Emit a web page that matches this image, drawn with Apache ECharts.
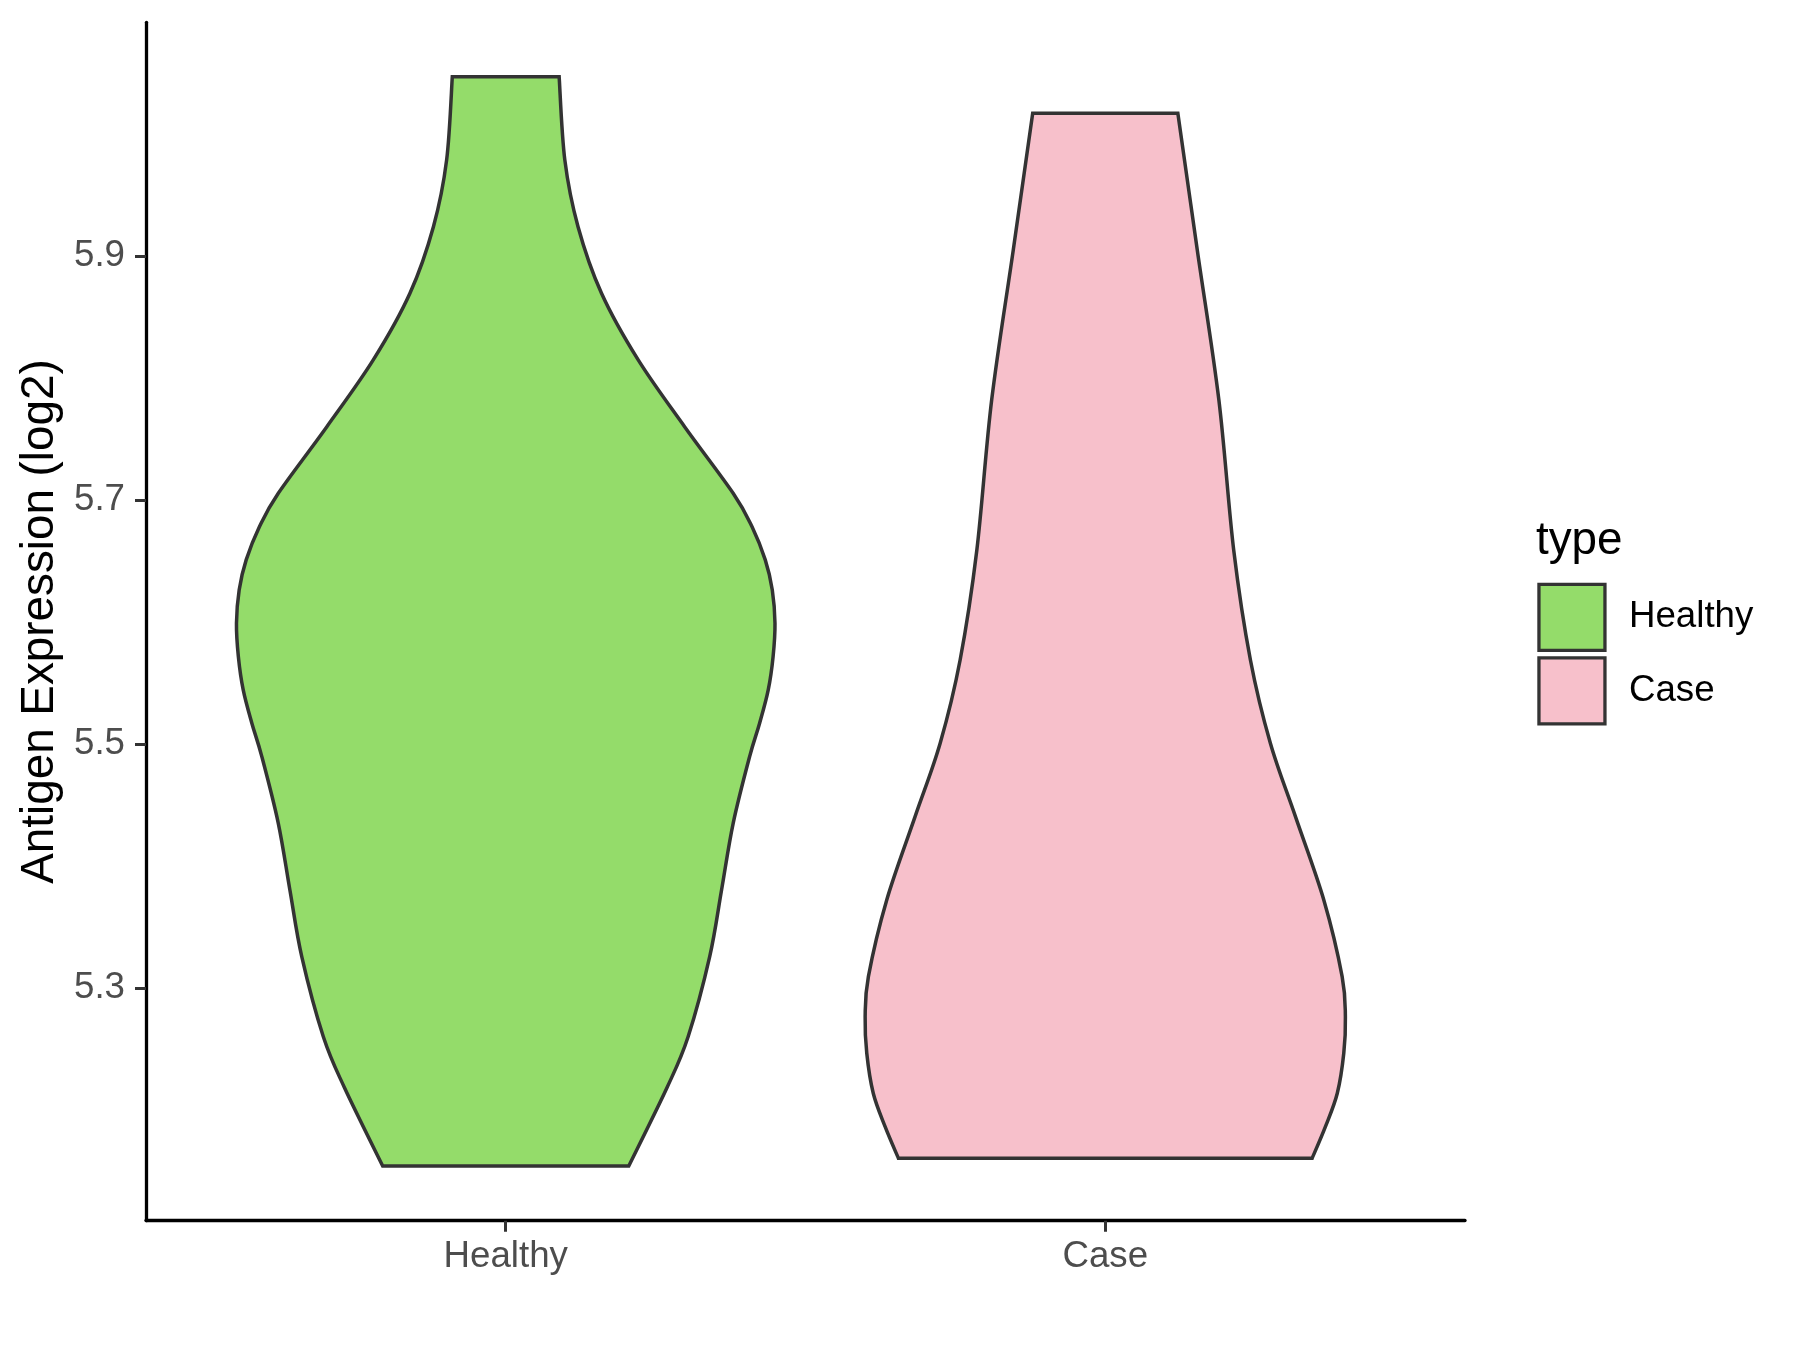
<!DOCTYPE html>
<html><head><meta charset="utf-8">
<script src="https://cdn.jsdelivr.net/npm/echarts@6/dist/echarts.min.js"></script>
<style>html,body{margin:0;padding:0;background:#fff}#c{width:1800px;height:1350px}</style>
</head><body><div id="c"></div>
<script>
const categories = ['Healthy', 'Case'];
const yTicks = [5.3, 5.5, 5.7, 5.9];
const legendTitle = 'type';
const yTitle = 'Antigen Expression (log2)';

// violin outline: expression value and relative density (1 = widest violin)
const healthyValues  = [6.0467, 5.9785, 5.9238, 5.8693, 5.8147, 5.760, 5.7055, 5.6781, 5.6509, 5.6263, 5.599, 5.5717, 5.5444, 5.5171, 5.4898, 5.4352, 5.3806, 5.326, 5.2604, 5.2188, 5.1545];
const healthyDensity = [0.198, 0.219, 0.268, 0.355, 0.491, 0.663, 0.843, 0.913, 0.962, 0.988, 0.998, 0.991, 0.973, 0.941, 0.904, 0.843, 0.800, 0.756, 0.676, 0.598, 0.456];
const caseValues  = [6.0167, 5.9048, 5.782, 5.659, 5.5689, 5.5007, 5.4406, 5.3724, 5.3096, 5.2768, 5.2468, 5.2141, 5.1867, 5.1609];
const caseDensity = [0.269, 0.341, 0.421, 0.476, 0.538, 0.612, 0.705, 0.810, 0.878, 0.890, 0.884, 0.860, 0.816, 0.767];

const FONT = '"Liberation Sans", Arial, sans-serif';
const HALF = 0.45;
const colors = ['#94dc6a', '#f7c0cb'];

function catmull(p) {
  let s = '';
  for (let i = 0; i < p.length - 1; i++) {
    const p0 = p[i - 1] || p[i], p1 = p[i], p2 = p[i + 1], p3 = p[i + 2] || p[i + 1];
    const c1 = [p1[0] + (p2[0] - p0[0]) / 6, p1[1] + (p2[1] - p0[1]) / 6];
    const c2 = [p2[0] - (p3[0] - p1[0]) / 6, p2[1] - (p3[1] - p1[1]) / 6];
    s += ' C' + c1[0] + ',' + c1[1] + ' ' + c2[0] + ',' + c2[1] + ' ' + p2[0] + ',' + p2[1];
  }
  return s;
}

function makeRender(values, density, catIdx, color) {
  return function (params, api) {
    if (params.dataIndex !== 0) return;
    const left = [], right = [];
    for (let i = 0; i < values.length; i++) {
      const c = api.coord([catIdx + 1, values[i]]);
      const hw = api.size([HALF * density[i], 0])[0];
      left.push([c[0] - hw, c[1]]);
      right.push([c[0] + hw, c[1]]);
    }
    const rr = right.slice().reverse();
    let d = 'M' + left[0][0] + ',' + left[0][1] + catmull(left);
    d += ' L' + rr[0][0] + ',' + rr[0][1] + catmull(rr) + ' Z';
    return {
      type: 'path',
      shape: { pathData: d },
      style: { fill: color, stroke: '#333333', lineWidth: 3.5, lineJoin: 'miter' }
    };
  };
}

const chart = echarts.init(document.getElementById('c'), null, { renderer: 'canvas' });
chart.setOption({
  animation: false,
  backgroundColor: '#ffffff',
  grid: { left: 146, top: 22.3, right: 335, bottom: 129.3, containLabel: false },
  xAxis: {
    type: 'value', min: 0.4, max: 2.6,
    splitLine: { show: false },
    axisLine: { show: true, lineStyle: { color: '#000', width: 3.3 } },
    axisTick: { show: true, customValues: [1, 2], length: 11, lineStyle: { color: '#333', width: 3 } },
    axisLabel: {
      customValues: [1, 2], margin: 18,
      formatter: v => categories[Math.round(v) - 1],
      color: '#4d4d4d', fontSize: 36.7, fontFamily: FONT
    }
  },
  yAxis: {
    type: 'value', min: 5.1097, max: 6.0912,
    name: yTitle, nameLocation: 'middle', nameGap: 81,
    nameTextStyle: { color: '#000', fontSize: 45.8, fontFamily: FONT },
    splitLine: { show: false },
    axisLine: { show: true, lineStyle: { color: '#000', width: 3.3 } },
    axisTick: { show: true, customValues: yTicks, length: 11, lineStyle: { color: '#333', width: 3 } },
    axisLabel: {
      customValues: yTicks, margin: 21,
      formatter: v => v.toFixed(1),
      color: '#4d4d4d', fontSize: 36.7, fontFamily: FONT
    }
  },
  legend: {
    data: categories, orient: 'vertical', left: 1537.3, top: 582.7, padding: 0,
    itemWidth: 66, itemHeight: 66, itemGap: 4.3, icon: 'rect', selectedMode: false,
    itemStyle: { borderColor: '#333', borderWidth: 3.3 },
    textStyle: { fontSize: 36.7, color: '#000', fontFamily: FONT, padding: [0, 0, 0, 19] }
  },
  graphic: [{
    type: 'text', x: 1536, y: 541.5,
    style: { text: legendTitle, font: '45.8px ' + FONT, fill: '#000', verticalAlign: 'middle', align: 'left' }
  }],
  series: [
    { type: 'custom', name: categories[0], coordinateSystem: 'cartesian2d', itemStyle: { color: colors[0] },
      data: [[1, healthyValues[0]]], renderItem: makeRender(healthyValues, healthyDensity, 0, colors[0]) },
    { type: 'custom', name: categories[1], coordinateSystem: 'cartesian2d', itemStyle: { color: colors[1] },
      data: [[2, caseValues[0]]], renderItem: makeRender(caseValues, caseDensity, 1, colors[1]) }
  ]
});
</script>
</body></html>
